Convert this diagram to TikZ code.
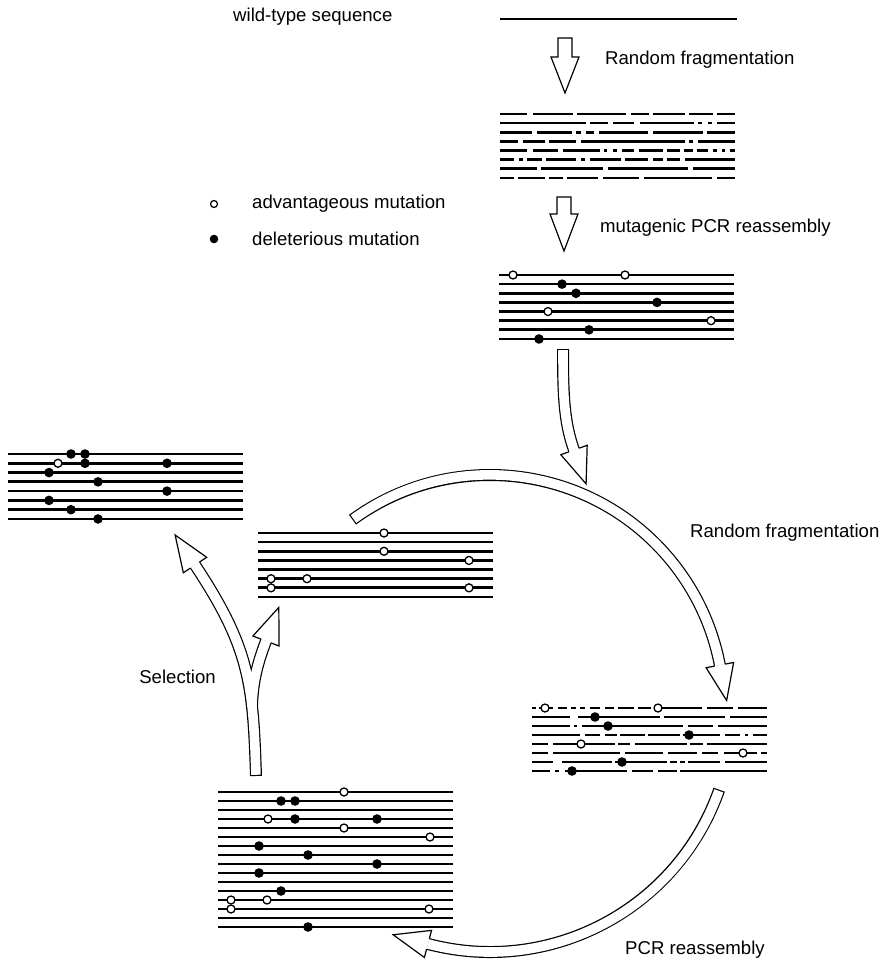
\documentclass[tikz,border=0pt]{standalone}
\usepackage{fontspec}
\setmainfont{Liberation Sans}
\usetikzlibrary{decorations.markings}
\tikzset{
 dna/.style={line width=2.7pt, line cap=butt},
 mutopen/.style={draw=black, fill=white, line width=1.3pt},
 lbl/.style={inner sep=0pt, font=\fontsize{18.6}{22}\selectfont},
 straightarrow/.style={draw=black, fill=white, line width=1.2pt, line join=miter},
 shaftout/.style={draw=black, line width=12pt},
 shaftin/.style={draw=white, line width=9.6pt},
 tailcap/.style={shorten <=1.2pt},
 headend/.style={postaction={decorate, decoration={markings, mark=at position 0.9999 with {\fill[white] (0,-14) -- (36,0) -- (0,14) -- cycle; \draw[draw=black, line width=1.2pt, line join=miter, shorten <=0pt] (0,5.4) -- (0,14) -- (36,0) -- (0,-14) -- (0,-5.4);}}}},
}
\newcommand\dnablock[1]{\foreach \i in {0,...,#1} \draw[dna] ({\bx},{\by+\i*\bd}) -- ({\bx+235},{\by+\i*\bd});}
\newcommand\fragrow[2]{\foreach \a/\b in {#2} \draw[dna] ({\bx+\a},{\by+(#1-1)*\bd}) -- ({\bx+\b},{\by+(#1-1)*\bd});}
\newcommand\mutO[2]{\draw[mutopen] ({\bx+#1},{\by+(#2-1)*\bd}) circle[radius=4];}
\newcommand\mutF[2]{\fill ({\bx+#1},{\by+(#2-1)*\bd}) circle[radius=4.8];}
\newcommand\hollowpath[1]{\draw[shaftout] #1; \draw[shaftin,tailcap,headend] #1;}
\begin{document}
\begin{tikzpicture}[x=1pt,y=-1pt]
\useasboundingbox (0,0) rectangle (893,964);
\fill[white] (0,0) rectangle (893,964);

% labels
\node[lbl, anchor=west] (wild) at (233,17) {wild-type sequence};
\node[lbl, anchor=west] (rf1) at (605,60) {Random fragmentation};
\node[lbl, anchor=west] (mut) at (600,228) {mutagenic PCR reassembly};
\node[lbl, anchor=west] (adv) at (252,204) {advantageous mutation};
\node[lbl, anchor=west] (del) at (252,239) {deleterious mutation};
\node[lbl, anchor=west] (rf2) at (690,533) {Random fragmentation};
\node[lbl, anchor=east] (sel) at (216,677) {Selection};
\node[lbl, anchor=west] (pcr) at (625,950) {PCR reassembly};

% legend symbols
\draw[mutopen, line width=1.2pt] (214,204) circle[radius=3.5];
\fill (214,239) circle[radius=4.3];

% wild-type sequence
\draw[dna] (500,19) -- (737,19);

% straight arrows
\draw[straightarrow] (558,38) -- (572,38) -- (572,57) -- (579,57) -- (565,93) -- (551,57) -- (558,57) -- cycle;
\draw[straightarrow] (557,197) -- (571,197) -- (571,214) -- (578,214) -- (564,251) -- (550,214) -- (557,214) -- cycle;

% curved hollow arrows
\hollowpath{(563,349) .. controls (563,395) and (564,422) .. (574,450)}
\hollowpath{(352.5,519.7) arc[start angle=-126, end angle=-10.8, radius=234]}
\hollowpath{(719.2,789.7) arc[start angle=19.4, end angle=104.8, radius=243]}

% selection Y arrow
\draw[shaftout] (256,776) .. controls (253,684) and (250,648) .. (195,565);
\draw[shaftout] (252,705) .. controls (253,680) and (258,662) .. (266,641);
\draw[shaftin,tailcap,headend] (256,776) .. controls (253,684) and (250,648) .. (195,565);
\draw[shaftin,headend] (252,705) .. controls (253,680) and (258,662) .. (266,641);

% fragmented wild-type block
\def\bx{500}\def\by{114}\def\bd{9.14}
\fragrow{1}{0/27,33/73,77/126,131/149,153/185,189/213,217/235}
\fragrow{2}{0/86,90/108,113/134,140/194,198/202,208/212,217/235}
\fragrow{3}{0/32,37/72,76/81,86/94,99/148,153/203,207/235}
\fragrow{4}{0/18,23/45,49/76,81/185,189/193,198/235}
\fragrow{5}{0/27,33/58,63/100,104/107,113/117,122/134,139/163,167/180,184/193,197/208,213/217,222/225,230/235}
\fragrow{6}{0/14,19/23,27/42,46/76,81/85,90/121,125/148,153/163,167/180,185/235}
\fragrow{7}{0/37,41/103,108/188,193/235}
\fragrow{8}{0/14,18/45,49/63,67/98,103/139,144/212,217/235}

% mutagenic PCR block
\def\bx{499}\def\by{275}\def\bd{9.14}
\dnablock{7}
\mutO{14}{1}\mutO{126}{1}\mutF{63}{2}\mutF{77}{3}\mutF{158}{4}
\mutO{49}{5}\mutO{212}{6}\mutF{90}{7}\mutF{40}{8}

% selected block (top left)
\def\bx{8}\def\by{454}\def\bd{9.28}
\dnablock{7}
\mutF{63}{1}\mutF{77}{1}\mutO{50}{2}\mutF{77}{2}\mutF{159}{2}
\mutF{41}{3}\mutF{90}{4}\mutF{159}{5}\mutF{41}{6}\mutF{63}{7}\mutF{90}{8}

% middle block
\def\bx{258}\def\by{533}\def\bd{9.14}
\dnablock{7}
\mutO{126}{1}\mutO{126}{3}\mutO{211}{4}\mutO{13}{6}\mutO{49}{6}\mutO{13}{7}\mutO{211}{7}

% fragmented mutant block (right)
\def\bx{532}\def\by{708}\def\bd{9}
\fragrow{1}{0/4,7/21,26/35,39/44,48/53,58/68,73/82,86/102,106/119,122/170,175/201,206/235}
\fragrow{2}{0/38,46/128,132/193,198/235}
\fragrow{3}{0/38,42/45,50/151,156/181,186/235}
\fragrow{4}{0/48,53/68,73/85,88/113,116/148,151/188,193/208,213/216,221/235}
\fragrow{5}{0/16,21/83,86/98,103/155,158/171,175/235}
\fragrow{6}{0/16,21/88,93/131,136/165,170/186,192/225,229/235}
\fragrow{7}{0/21,30/80,83/135,138/145,148/153,156/188,193/235}
\fragrow{8}{0/18,23/27,33/95,100/121,126/145,148/235}
\mutO{13}{1}\mutO{126}{1}\mutF{63}{2}\mutF{76}{3}\mutF{157}{4}
\mutO{49}{5}\mutO{211}{6}\mutF{90}{7}\mutF{40}{8}

% reassembled block (bottom)
\def\bx{218}\def\by{792}\def\bd{9}
\dnablock{15}
\mutO{126}{1}\mutF{63}{2}\mutF{77}{2}
\mutO{50}{4}\mutF{77}{4}\mutF{159}{4}
\mutO{126}{5}\mutO{212}{6}\mutF{41}{7}\mutF{90}{8}\mutF{159}{9}\mutF{41}{10}
\mutF{63}{12}\mutO{13}{13}\mutO{49}{13}\mutO{13}{14}\mutO{211}{14}\mutF{90}{16}
\end{tikzpicture}
\end{document}
